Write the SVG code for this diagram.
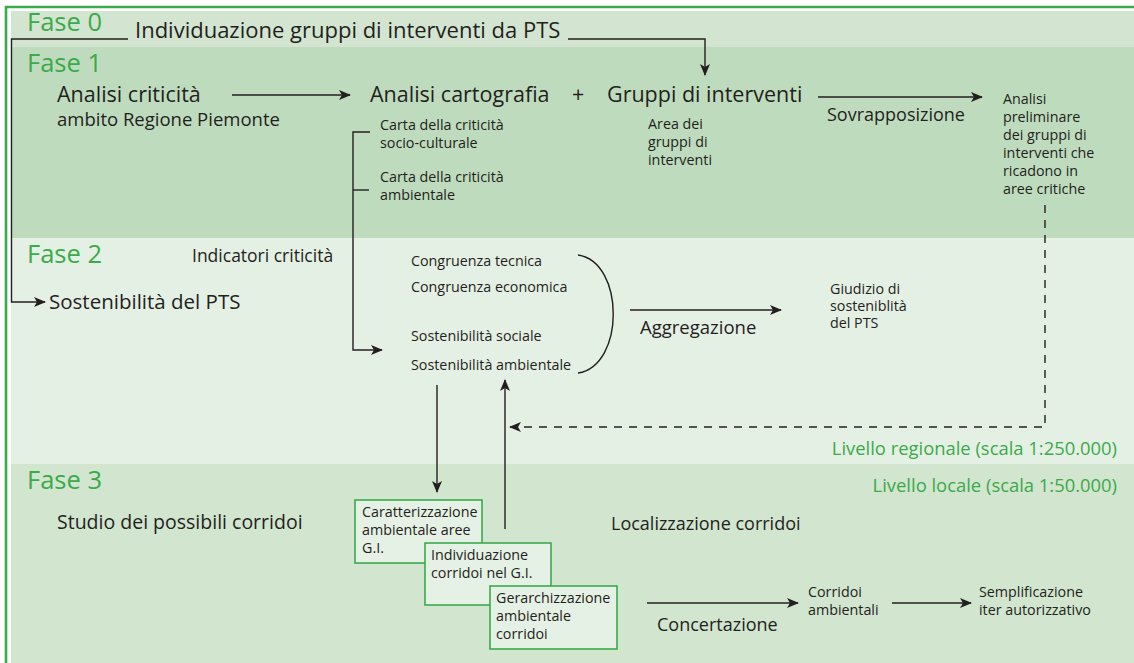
<svg xmlns="http://www.w3.org/2000/svg" width="1134" height="663" viewBox="0 0 1134 663">
<defs>
<style>
text{font-family:"Open Sans","Noto Sans","Liberation Sans",sans-serif;fill:#231f20}
.fase{font-size:25.5px;fill:#3aaa4b}
.big{font-size:21.5px}
.mid{font-size:18px}
.sm{font-size:14.3px}
.green{font-size:18.4px;fill:#3aaa4b}
.ln{fill:none;stroke:#231f20;stroke-width:1.4}
.box{fill:#e6f1e5;stroke:#3aaa4b;stroke-width:1.6}
</style>
<marker id="ah" viewBox="0 0 12 10" refX="11" refY="5" markerWidth="12" markerHeight="10" markerUnits="userSpaceOnUse" orient="auto">
<path d="M0,0 L12,5 L0,10 L3,5 z" fill="#231f20"/>
</marker>
</defs>
<rect x="0" y="0" width="1134" height="663" fill="#ffffff"/>
<g id="bands">
<rect x="11" y="11" width="1123" height="36" fill="#d3e5d0"/>
<rect x="11" y="47" width="1123" height="191" fill="#bedcbd"/>
<rect x="11" y="238" width="1123" height="226" fill="#e5f0e4"/>
<rect x="11" y="464" width="1123" height="199" fill="#d2e5cf"/>
<path d="M6 663 V7 H1134" fill="none" stroke="#3aaa4b" stroke-width="2.6"/>
</g>
<g id="connectors">
<path class="ln" d="M128 39 H11.5 V302 H45" marker-end="url(#ah)"/>
<path class="ln" d="M568 39 H705 V75" marker-end="url(#ah)"/>
<path class="ln" d="M232 95 H350" marker-end="url(#ah)"/>
<path class="ln" d="M818 97 H982" marker-end="url(#ah)"/>
<path class="ln" d="M370 132 H353 V350 H382" marker-end="url(#ah)"/>
<path class="ln" d="M353 190 H369"/>
<path class="ln" d="M578 255 C625 262 625 366 578 373"/>
<path class="ln" d="M630 310 H781" marker-end="url(#ah)"/>
<path class="ln" d="M437 385 V492" marker-end="url(#ah)"/>
<path class="ln" d="M505 529 V380" marker-end="url(#ah)"/>
<path class="ln" d="M1045 205 V427 H510" stroke-dasharray="8 7" marker-end="url(#ah)"/>
<path class="ln" d="M647 603 H798" marker-end="url(#ah)"/>
<path class="ln" d="M892 603 H971" marker-end="url(#ah)"/>
</g>
<g id="fase0">
<text class="fase" x="27" y="31">Fase 0</text>
<text style="font-size:22px" x="135" y="38">Individuazione gruppi di interventi da PTS</text>
</g>
<g id="fase1">
<text class="fase" x="27" y="72">Fase 1</text>
</g>
<g id="analisi-criticita">
<text class="big" x="57" y="102">Analisi criticità</text>
<text style="font-size:18.5px" x="57" y="126">ambito Regione Piemonte</text>
</g>
<g id="analisi-cartografia">
<text class="big" x="370" y="102">Analisi cartografia</text>
<text class="big" x="572" y="102">+</text>
<text class="sm" x="380" y="130">Carta della criticità</text>
<text class="sm" x="380" y="148">socio-culturale</text>
<text class="sm" x="380" y="182">Carta della criticità</text>
<text class="sm" x="380" y="200">ambientale</text>
</g>
<g id="gruppi">
<text class="big" x="607" y="102">Gruppi di interventi</text>
<text class="sm" x="648" y="129">Area dei</text>
<text class="sm" x="648" y="147">gruppi di</text>
<text class="sm" x="648" y="165">interventi</text>
</g>
<g id="sovrapposizione">
<text class="mid" x="827" y="121">Sovrapposizione</text>
</g>
<g id="analisi-preliminare">
<text class="sm" x="1003" y="104">Analisi</text>
<text class="sm" x="1003" y="122">preliminare</text>
<text class="sm" x="1003" y="140">dei gruppi di</text>
<text class="sm" x="1003" y="158">interventi che</text>
<text class="sm" x="1003" y="176">ricadono in</text>
<text class="sm" x="1003" y="194">aree critiche</text>
</g>
<g id="fase2">
<text class="fase" x="27" y="263">Fase 2</text>
<text style="font-size:17.5px" x="192" y="262">Indicatori criticità</text>
</g>
<g id="sostenibilita-pts">
<text style="font-size:20.5px" x="49" y="309">Sostenibilità del PTS</text>
</g>
<g id="indicatori">
<text class="sm" x="411" y="266">Congruenza tecnica</text>
<text class="sm" x="411" y="292">Congruenza economica</text>
<text class="sm" x="411" y="341">Sostenibilità sociale</text>
<text class="sm" x="411" y="370">Sostenibilità ambientale</text>
</g>
<g id="aggregazione">
<text style="font-size:18.5px" x="640" y="334">Aggregazione</text>
</g>
<g id="giudizio">
<text class="sm" x="830" y="294">Giudizio di</text>
<text class="sm" x="830" y="311">sosteniblità</text>
<text class="sm" x="830" y="328">del PTS</text>
</g>
<g id="livelli">
<text class="green" x="1117" y="455" text-anchor="end">Livello regionale (scala 1:250.000)</text>
<text class="green" x="1117" y="492" text-anchor="end">Livello locale (scala 1:50.000)</text>
</g>
<g id="fase3">
<text class="fase" x="27" y="489">Fase 3</text>
<text style="font-size:19.5px" x="57" y="529">Studio dei possibili corridoi</text>
<text class="mid" x="611" y="530">Localizzazione corridoi</text>
</g>
<g id="box1">
<rect class="box" x="355" y="500" width="127" height="63"/>
<text class="sm" x="362" y="517">Caratterizzazione</text>
<text class="sm" x="362" y="535">ambientale aree</text>
<text class="sm" x="362" y="553">G.I.</text>
</g>
<g id="box2">
<rect class="box" x="425" y="543" width="126" height="62"/>
<text class="sm" x="431" y="560">Individuazione</text>
<text class="sm" x="431" y="578">corridoi nel G.I.</text>
</g>
<g id="box3">
<rect class="box" x="490" y="586" width="127" height="63"/>
<text class="sm" x="496" y="603">Gerarchizzazione</text>
<text class="sm" x="496" y="621">ambientale</text>
<text class="sm" x="496" y="639">corridoi</text>
</g>
<g id="concertazione">
<text class="mid" x="657" y="631">Concertazione</text>
</g>
<g id="corridoi-ambientali">
<text class="sm" x="808" y="597">Corridoi</text>
<text class="sm" x="808" y="615">ambientali</text>
</g>
<g id="semplificazione">
<text class="sm" x="979" y="597">Semplificazione</text>
<text class="sm" x="979" y="615">iter autorizzativo</text>
</g>
</svg>
